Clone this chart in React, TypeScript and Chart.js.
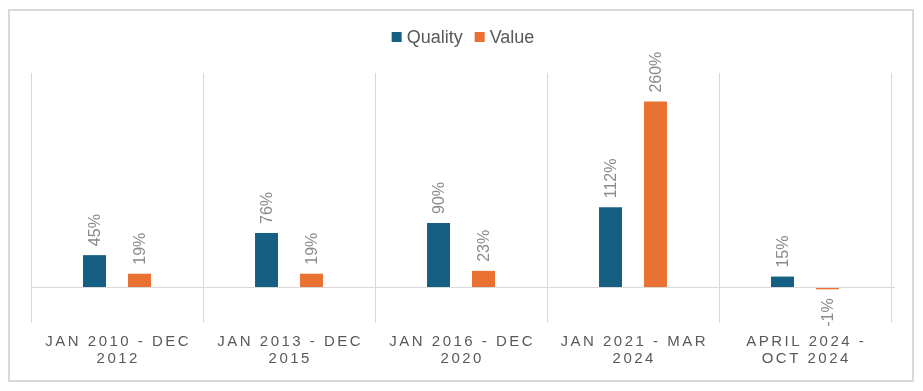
import React, { useEffect, useRef } from "react";
import { Chart, registerables } from "chart.js";

Chart.register(...registerables);

const categories: string[][] = [
  ["JAN 2010 - DEC", "2012"],
  ["JAN 2013 - DEC", "2015"],
  ["JAN 2016 - DEC", "2020"],
  ["JAN 2021 - MAR", "2024"],
  ["APRIL 2024 -", "OCT 2024"],
];
const qualityValues = [45, 76, 90, 112, 15];
const valueValues = [19, 19, 23, 260, -1];
const seriesNames = ["Quality", "Value"];
const seriesColors = ["#156082", "#E97132"];

const FONT = "'Liberation Sans', Arial, sans-serif";

function drawSpaced(ctx: CanvasRenderingContext2D, text: string, cx: number, cy: number, spacing: number) {
  const chars = Array.from(text);
  const widths = chars.map((c) => ctx.measureText(c).width);
  const total = widths.reduce((a, b) => a + b, 0) + spacing * (chars.length - 1);
  let x = cx - total / 2;
  ctx.textAlign = "left";
  chars.forEach((c, i) => {
    ctx.fillText(c, x, cy);
    x += widths[i] + spacing;
  });
}

const customPlugin = {
  id: "custom",
  afterDraw(chart: any) {
    const ctx: CanvasRenderingContext2D = chart.ctx;
    const area = chart.chartArea;
    const yScale = chart.scales.y;
    const xScale = chart.scales.x;
    ctx.save();
    // zero line
    const y0 = yScale.getPixelForValue(0);
    ctx.strokeStyle = "#d9d9d9";
    ctx.lineWidth = 1;
    ctx.beginPath();
    ctx.moveTo(area.left, Math.round(y0) + 0.5);
    ctx.lineTo(area.right + 4, Math.round(y0) + 0.5);
    ctx.stroke();

    // data labels
    ctx.fillStyle = "#8a8a8a";
    ctx.font = `16px ${FONT}`;
    ctx.textBaseline = "middle";
    chart.data.datasets.forEach((ds: any, di: number) => {
      const meta = chart.getDatasetMeta(di);
      meta.data.forEach((el: any, i: number) => {
        const v = ds.data[i];
        const txt = `${v}%`;
        ctx.save();
        if (v >= 0) {
          ctx.translate(el.x, el.y - 9);
          ctx.rotate(-Math.PI / 2);
          ctx.textAlign = "left";
        } else {
          ctx.translate(el.x, el.y + 9);
          ctx.rotate(-Math.PI / 2);
          ctx.textAlign = "right";
        }
        ctx.fillText(txt, 0, 1);
        ctx.restore();
      });
    });

    // category labels
    ctx.fillStyle = "#595959";
    ctx.font = `15px ${FONT}`;
    ctx.textBaseline = "middle";
    categories.forEach((lines, i) => {
      const cx = xScale.getPixelForValue(i);
      lines.forEach((line, li) => {
        drawSpaced(ctx, line, cx, area.bottom + 19 + li * 17, 2.5);
      });
    });

    // legend
    ctx.font = `18px ${FONT}`;
    ctx.textBaseline = "middle";
    const box = 10;
    const gap = 5;
    const itemGap = 12;
    const widths = seriesNames.map((n) => ctx.measureText(n).width);
    const total = widths.reduce((a, w) => a + box + gap + w, 0) + itemGap * (seriesNames.length - 1);
    let x = (area.left + area.right) / 2 - total / 2 + 2;
    const ly = 26;
    seriesNames.forEach((n, i) => {
      ctx.fillStyle = seriesColors[i];
      ctx.fillRect(x, ly - 5, box, box);
      x += box + gap;
      ctx.fillStyle = "#595959";
      ctx.textAlign = "left";
      ctx.fillText(n, x, ly + 1);
      x += widths[i] + itemGap;
    });
    ctx.restore();
  },
};

export default function App() {
  const ref = useRef<HTMLCanvasElement | null>(null);
  useEffect(() => {
    if (!ref.current) return;
    const chart = new Chart(ref.current, {
      type: "bar",
      data: {
        labels: categories.map((c) => c.join(" ")),
        datasets: [
          {
            label: seriesNames[0],
            data: qualityValues,
            backgroundColor: seriesColors[0],
            categoryPercentage: 0.523,
            barPercentage: 0.511,
            minBarLength: 2,
          },
          {
            label: seriesNames[1],
            data: valueValues,
            backgroundColor: seriesColors[1],
            categoryPercentage: 0.523,
            barPercentage: 0.511,
            minBarLength: 2,
          },
        ],
      },
      options: {
        animation: false,
        responsive: true,
        maintainAspectRatio: false,
        layout: { padding: { left: 21, right: 21, top: 62, bottom: 57 } },
        plugins: { legend: { display: false }, tooltip: { enabled: false } },
        scales: {
          x: {
            display: true,
            offset: true,
            grid: { color: "#d9d9d9", drawTicks: false, offset: true },
            border: { display: false },
            ticks: { display: false },
          },
          y: { display: false, min: -50, max: 300 },
        },
      },
      plugins: [customPlugin],
    });
    return () => chart.destroy();
  }, []);
  return (
    <div
      style={{
        marginTop: 1,
        width: 906,
        height: 373,
        boxSizing: "border-box",
        border: "2px solid #d9d9d9",
        background: "#fff",
      }}
    >
      <div style={{ position: "relative", width: 902, height: 369 }}>
        <canvas ref={ref} />
      </div>
    </div>
  );
}
